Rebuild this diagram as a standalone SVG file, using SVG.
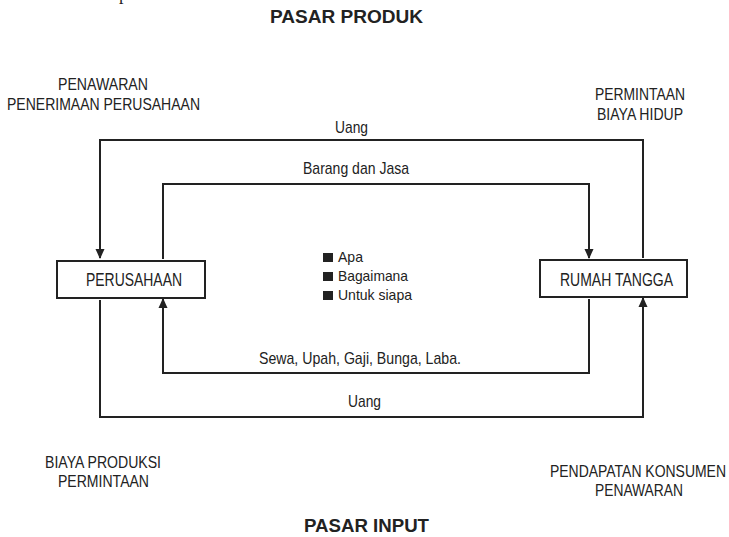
<svg xmlns="http://www.w3.org/2000/svg" width="729" height="537" viewBox="0 0 729 537">
<style>
text{font-family:"Liberation Sans",Arial,sans-serif;fill:#222;}
.lbl{font-size:17px;}
.big{font-size:18px;}
.sm{font-size:15px;}
.ttl{font-size:18px;font-weight:bold;}
.box{fill:#fff;stroke:#222;stroke-width:2;}
.conn{fill:none;stroke:#222;stroke-width:2;}
.bul{fill:#222;}
</style>
<defs>
<marker id="arr" viewBox="0 0 10 10" refX="9" refY="5" markerWidth="10" markerHeight="10" markerUnits="userSpaceOnUse" orient="auto">
<path d="M0,0.5 L10,5 L0,9.5 z" fill="#222"/>
</marker>
</defs>
<rect width="729" height="537" fill="#fff"/>
<text x="119" y="0" style="font-family:'Liberation Serif',serif;font-size:18px">p</text>
<text class="ttl" x="270" y="23" textLength="153" lengthAdjust="spacingAndGlyphs">PASAR PRODUK</text>
<text class="ttl" x="304" y="532" textLength="125" lengthAdjust="spacingAndGlyphs">PASAR INPUT</text>

<g id="corner-labels">
<text class="lbl" x="58" y="90" textLength="90" lengthAdjust="spacingAndGlyphs">PENAWARAN</text>
<text class="lbl" x="7" y="110" textLength="193" lengthAdjust="spacingAndGlyphs">PENERIMAAN PERUSAHAAN</text>
<text class="lbl" x="595" y="100" textLength="90" lengthAdjust="spacingAndGlyphs">PERMINTAAN</text>
<text class="lbl" x="597" y="120" textLength="86" lengthAdjust="spacingAndGlyphs">BIAYA HIDUP</text>
<text class="lbl" x="45" y="468" textLength="116" lengthAdjust="spacingAndGlyphs">BIAYA PRODUKSI</text>
<text class="lbl" x="58" y="487" textLength="91" lengthAdjust="spacingAndGlyphs">PERMINTAAN</text>
<text class="lbl" x="550" y="477" textLength="176" lengthAdjust="spacingAndGlyphs">PENDAPATAN KONSUMEN</text>
<text class="lbl" x="595" y="496" textLength="88" lengthAdjust="spacingAndGlyphs">PENAWARAN</text>
</g>

<g id="connectors">
<polyline class="conn" points="643,258 643,140 100,140 100,258" marker-end="url(#arr)"/>
<polyline class="conn" points="163,259 163,184 589,184 589,258" marker-end="url(#arr)"/>
<polyline class="conn" points="589,299 589,373 163,373 163,299" marker-end="url(#arr)"/>
<polyline class="conn" points="100,300 100,417 643,417 643,298" marker-end="url(#arr)"/>
<text class="lbl" x="335" y="133" textLength="33" lengthAdjust="spacingAndGlyphs">Uang</text>
<text class="lbl" x="303" y="174" textLength="106" lengthAdjust="spacingAndGlyphs">Barang dan Jasa</text>
<text class="lbl" x="259" y="364" textLength="202" lengthAdjust="spacingAndGlyphs">Sewa, Upah, Gaji, Bunga, Laba.</text>
<text class="lbl" x="348" y="407" textLength="33" lengthAdjust="spacingAndGlyphs">Uang</text>
</g>

<g id="perusahaan">
<rect class="box" x="57" y="261" width="148" height="37"/>
<text class="big" x="86" y="286" textLength="96" lengthAdjust="spacingAndGlyphs">PERUSAHAAN</text>
</g>

<g id="rumah-tangga">
<rect class="box" x="540" y="260" width="147" height="37"/>
<text class="big" x="560" y="286" textLength="113" lengthAdjust="spacingAndGlyphs">RUMAH TANGGA</text>
</g>

<g id="questions">
<rect class="bul" x="323" y="253" width="10" height="9"/>
<rect class="bul" x="323" y="272" width="10" height="9"/>
<rect class="bul" x="323" y="291" width="10" height="9"/>
<text class="sm" x="338" y="262" textLength="25" lengthAdjust="spacingAndGlyphs">Apa</text>
<text class="sm" x="338" y="281" textLength="70" lengthAdjust="spacingAndGlyphs">Bagaimana</text>
<text class="sm" x="338" y="300" textLength="74" lengthAdjust="spacingAndGlyphs">Untuk siapa</text>
</g>
</svg>
